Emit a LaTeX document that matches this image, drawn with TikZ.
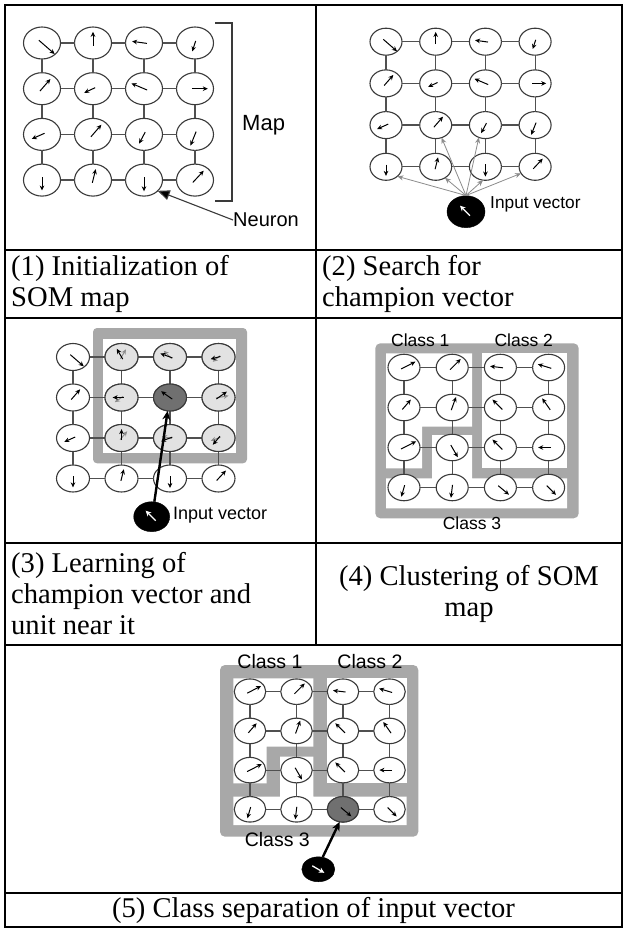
\documentclass[tikz,border=0pt]{standalone}
\usepackage{fontspec}
\setmainfont{Liberation Serif}
\newfontfamily\arialf{Liberation Sans}
\usetikzlibrary{arrows.meta,shapes.geometric}
\definecolor{linec}{HTML}{3A3A3A}
\definecolor{linkc}{HTML}{505050}
\definecolor{bandc}{HTML}{A8A8A8}
\definecolor{nlight}{HTML}{E2E2E2}
\definecolor{ndark}{HTML}{707070}
\definecolor{gvecc}{HTML}{8C8C8C}
\newcommand\capfont{\fontsize{28.6}{31}\selectfont}
% grid of 4x4 neurons: #1 prefix, #2 x0, #3 y0, #4 dx, #5 dy, #6 width, #7 height
\newcommand\somgrid[7]{%
  \foreach \r in {1,...,4}{\foreach \c in {1,...,4}{%
    \node[neuron, minimum width=#6pt, minimum height=#7pt] (#1-\r-\c) at ({#2+(\c-1)*#4},{#3+(\r-1)*#5}) {};
  }}%
  \foreach \r in {1,...,4}{\foreach \c/\d in {1/2,2/3,3/4}{%
    \draw[link] (#1-\r-\c) -- (#1-\r-\d);
    \draw[link] (#1-\c-\r) -- (#1-\d-\r);
  }}%
}
% arrows in neurons: [style] #2 prefix, #3 factor, #4 list r/c/angle/length
\newcommand\nvecs[4][]{%
  \foreach \r/\c/\a/\vl in {#4}{%
    \draw[vec,#1] (#2-\r-\c.center) ++({-0.2*#3*\vl*cos(\a)},{0.2*#3*\vl*sin(\a)}) -- ++({#3*\vl*cos(\a)},{-#3*\vl*sin(\a)});
  }%
}
\begin{document}
\begin{tikzpicture}[x=1pt,y=-1pt,
  neuron/.style={ellipse, draw=linec, line width=1.1pt, fill=white, inner sep=0pt, outer sep=0pt},
  link/.style={draw=linkc, line width=1.2pt},
  vec/.style={line width=1pt, black, -{Stealth[length=5pt,width=4.6pt]}},
  gvec/.style={vec, draw=gvecc, -{Stealth[length=5pt,width=4.6pt,fill=gvecc]}},
  ivec/.style={ellipse, fill=black, draw=black, inner sep=0pt},
  garrow/.style={draw=gvecc, line width=0.8pt, -{Stealth[length=6pt,width=5pt]}},
  barrow/.style={draw=black, line width=2.4pt, -{Stealth[length=9pt,width=8pt]}},
  wvec/.style={white, line width=1.3pt, -{Stealth[length=5.5pt,width=5.5pt]}},
  sans/.style={font=\arialf\fontsize{17.5}{20}\selectfont, inner sep=0pt},
  caption/.style={font=\capfont, inner sep=0pt},
  tline/.style={line width=2pt, black}]
\useasboundingbox (0,0) rectangle (624,928);
\fill[white] (0,0) rectangle (624,928);

% ---------------- panel 1
\somgrid{p1}{42}{43}{51}{45.7}{37}{32}
\nvecs{p1}{1}{1/1/-41/21, 1/2/90/14, 1/3/172/15, 1/4/-108/11, 2/1/49/16, 2/2/-155/12, 2/3/157/17, 2/4/0/16, 3/1/-156/14, 3/2/49/16, 3/3/-118/13, 3/4/-112/15, 4/1/-90/13, 4/2/76/14, 4/3/-90/14, 4/4/47/16}
\draw[linec, line width=1.3pt] (215,23) -- (232,23) -- (232,201) -- (215,201);
\node[font=\arialf\fontsize{22}{24}\selectfont, inner sep=0pt, anchor=west] (map) at (242,125) {Map};
\node[font=\arialf\fontsize{20}{22}\selectfont, inner sep=0pt, anchor=west] (neuron) at (233,220) {Neuron};
\draw[linec, line width=1.1pt, -{Triangle[length=12pt,width=10pt,fill=black]}] (neuron.west) -- (p1-4-3.-38);

% ---------------- panel 2
\somgrid{p2}{386}{41.7}{49.7}{41.7}{32}{27}
\nvecs{p2}{0.87}{1/1/-41/21, 1/2/90/14, 1/3/172/15, 1/4/-108/11, 2/1/49/16, 2/2/-155/12, 2/3/157/17, 2/4/0/16, 3/1/-156/14, 3/2/49/16, 3/3/-118/13, 3/4/-112/15, 4/1/-90/13, 4/2/76/14, 4/3/-90/14, 4/4/47/16}
\node[ivec, minimum width=38pt, minimum height=32pt] (iv2) at (466,211.7) {};
\draw[wvec] (iv2.center) ++(4,4) -- ++(-10,-10);
\node[sans, font=\arialf\fontsize{17.3}{20}\selectfont, anchor=west] (iv2t) at (490,204) {Input vector};
\draw[garrow] (iv2.north) -- (p2-4-1.-40);
\draw[garrow] (iv2.north) -- (p2-4-2.-50);
\draw[garrow] (iv2.north) -- (p2-3-2.-65);
\draw[garrow] (iv2.north) -- (p2-3-3.-118);
\draw[garrow] (iv2.north) -- (p2-4-3.-100);
\draw[garrow] (iv2.north) -- (p2-4-4.-155);

% ---------------- panel 3
\fill[bandc, rounded corners=4pt] (93,328) rectangle (247,463.3);
\fill[white] (103,339) rectangle (236,453);
\somgrid{p3}{73}{357}{48.5}{40.5}{33}{27}
\foreach \r/\c in {1/2,1/3,1/4,2/2,2/4,3/2,3/3,3/4}
  \filldraw[fill=nlight, draw=linec, line width=1.1pt] (p3-\r-\c.center) ellipse [x radius=16.5, y radius=13.5];
\filldraw[fill=ndark, draw=linec, line width=1.1pt] (p3-2-3.center) ellipse [x radius=16.5, y radius=13.5];
\nvecs{p3}{0.85}{1/1/-41/21, 2/1/49/16, 3/1/-156/14, 4/1/-90/13, 4/2/76/14, 4/3/-90/14, 4/4/47/16}
\nvecs[gvec]{p3}{0.85}{1/2/60/13, 1/3/135/13, 1/4/220/11, 2/2/-145/12, 2/4/10/15, 3/2/50/13, 3/3/170/12, 3/4/-160/12}
\nvecs{p3}{0.85}{1/2/120/14, 1/3/160/15, 1/4/195/12, 2/2/180/13, 2/3/145/16, 2/4/35/15, 3/2/90/13, 3/3/200/14, 3/4/-130/13}
\node[ivec, minimum width=36pt, minimum height=30pt] (iv3) at (151.7,516.7) {};
\draw[barrow] (iv3.80) -- (p3-2-3.-100);
\draw[wvec] (iv3.center) ++(4,4) -- ++(-10,-10);
\node[sans, font=\arialf\fontsize{18}{20}\selectfont, anchor=west] (iv3t) at (173,515) {Input vector};

% ---------------- panel 4
\fill[bandc, rounded corners=5pt] (375.3,343.3) rectangle (578.7,518.3);
\fill[white] (386,353.3) -- (472,353.3) -- (472,426.7) -- (422,426.7) -- (422,468.3) -- (386,468.3) -- cycle;
\fill[white] (482,353.3) rectangle (567,468.3);
\fill[white] (386,478.3) -- (432,478.3) -- (432,435) -- (472,435) -- (472,478.3) -- (567,478.3) -- (567,508.3) -- (386,508.3) -- cycle;
\somgrid{p4}{404}{367.5}{48.2}{40}{32}{26.5}
\nvecs{p4}{1}{1/1/27/16, 1/2/45/15, 1/3/173/13, 1/4/163/14, 2/1/49/13, 2/2/70/14, 2/3/135/14, 2/4/125/14, 3/1/27/17, 3/2/-60/14, 3/3/135/14, 3/4/180/13, 4/1/-106/12, 4/2/-97/13, 4/3/-40/14, 4/4/-45/13}
\node[sans] (c41) at (420.3,340) {Class 1};
\node[sans] (c42) at (523.7,340) {Class 2};
\node[sans] (c43) at (472,523.3) {Class 3};

% ---------------- panel 5
\fill[bandc, rounded corners=5pt] (220,665) rectangle (418.3,836.7);
\fill[white] (233.3,678.3) -- (313.3,678.3) -- (313.3,746.7) -- (266.7,746.7) -- (266.7,783.3) -- (233.3,783.3) -- cycle;
\fill[white] (326.7,678.3) rectangle (406.7,783.3);
\fill[white] (233.3,796.7) -- (280,796.7) -- (280,756.7) -- (313.3,756.7) -- (313.3,796.7) -- (406.7,796.7) -- (406.7,825) -- (233.3,825) -- cycle;
\somgrid{p5}{250}{691.7}{46.5}{39.2}{31.5}{25.5}
\filldraw[fill=ndark, draw=linec, line width=1.1pt] (p5-4-3.center) ellipse [x radius=15.75, y radius=12.75];
\nvecs{p5}{0.97}{1/1/27/16, 1/2/45/15, 1/3/173/13, 1/4/163/14, 2/1/49/13, 2/2/70/14, 2/3/135/14, 2/4/125/14, 3/1/27/17, 3/2/-60/14, 3/3/135/14, 3/4/180/13, 4/1/-106/12, 4/2/-97/13, 4/3/-40/14, 4/4/-45/13}
\node[sans, font=\arialf\fontsize{19.5}{22}\selectfont] (c51) at (270,661.7) {Class 1};
\node[sans, font=\arialf\fontsize{19.5}{22}\selectfont] (c52) at (370,661.7) {Class 2};
\node[sans, font=\arialf\fontsize{19.5}{22}\selectfont] (c53) at (277.3,840) {Class 3};
\node[ivec, minimum width=33pt, minimum height=25pt] (iv5) at (318.3,869.3) {};
\draw[barrow] (iv5.70) -- (p5-4-3.-105);
\draw[wvec] (iv5.center) ++(-6,-3.5) -- ++(12,7);

% ---------------- captions
\node[caption, anchor=west, align=left] (cap1) at (11,284) {(1) Initialization of\\SOM map};
\node[caption, anchor=west, align=left] (cap2) at (322,284) {(2) Search for\\champion vector};
\node[caption, anchor=west, align=left] (cap3) at (11,594) {(3) Learning of\\champion vector and\\unit near it};
\node[caption, align=center] (cap4) at (469,594) {(4) Clustering of SOM\\map};
\node[caption] (cap5) at (313.5,910) {(5) Class separation of input vector};

% ---------------- table rules
\draw[tline] (5,5) rectangle (622,927);
\foreach \yy in {250,318,543,645,893} \draw[tline] (5,\yy) -- (622,\yy);
\draw[tline] (316,5) -- (316,645);
\end{tikzpicture}
\end{document}
